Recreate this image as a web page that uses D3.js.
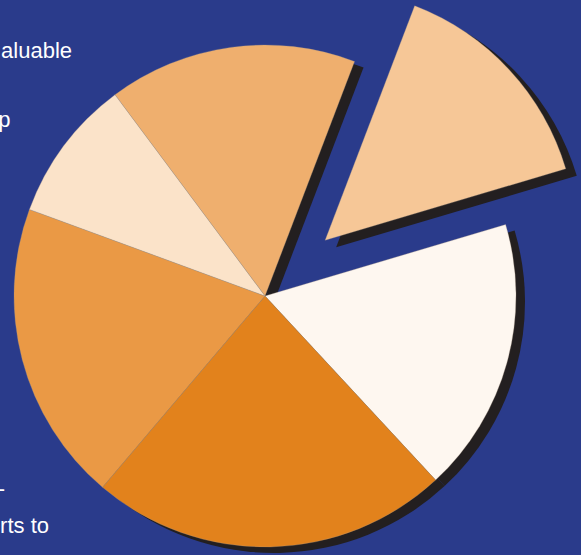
<!DOCTYPE html>
<html>
<head>
<meta charset="utf-8">
<script src="https://cdn.jsdelivr.net/npm/d3@7"></script>
<style>
  body { margin: 0; background: #2a3b8b; overflow: hidden; }
  .note { fill: #ffffff; font-family: "Liberation Sans", Arial, sans-serif; font-size: 22px; }
</style>
</head>
<body>
<script>
(function(){

//pseudo-global variables
var categories = ["Slice A", "Slice B", "Slice C", "Slice D", "Slice E", "Slice F"];
var shares = [16.0, 14.6, 17.7, 23.1, 19.4, 9.2];
var colors = ["#efaf6e", "#f6c797", "#fef7f0", "#e2821c", "#ea9945", "#fbe3c9"];
var exploded = "Slice B";

//text lines cut off at the left side (only the visible part)
var noteLines = ["aluable", "p", "-", "rts to"];
var noteEnds = [72, 10.5, 5, 49];
var noteBaselines = [58, 127, 496, 533];

window.onload = setChart();

function setChart(){

    //frame dimensions
    var width = 581,
        height = 555;

    var svg = d3.select("body")
      .append("svg")
      .attr("width", width)
      .attr("height", height);

    //text notes
    svg.selectAll(".note")
      .data(noteLines)
      .enter()
      .append("text")
      .attr("class", "note")
      .attr("text-anchor", "end")
      .attr("x", function(d, i){ return noteEnds[i]; })
      .attr("y", function(d, i){ return noteBaselines[i]; })
      .text(function(d){ return d; });

    var radius = 251,
        pull = 82;

    var pie = d3.pie()
      .sort(null)
      .startAngle(-36.7 * Math.PI / 180)
      .endAngle((360 - 36.7) * Math.PI / 180)
      .value(function(d){ return d; });

    var arc = d3.arc()
      .innerRadius(0)
      .outerRadius(radius);

    var color = d3.scaleOrdinal()
      .domain(categories)
      .range(colors);

    var arcs = pie(shares);
    arcs.forEach(function(d, i){ d.name = categories[i]; });

    //offset for the pulled out slice
    function shift(d){
      if (d.name != exploded) return [0, 0];
      var mid = (d.startAngle + d.endAngle) / 2;
      return [pull * Math.sin(mid), -pull * Math.cos(mid)];
    };

    var g = svg.append("g")
      .attr("transform", "translate(265,296)");

    //drop shadows first
    g.selectAll(".shadow")
      .data(arcs)
      .enter()
      .append("path")
      .attr("class", "shadow")
      .attr("d", arc)
      .attr("fill", "#231f20")
      .attr("transform", function(d){
        var s = shift(d);
        var off = d.name == exploded ? [11, 7] : [9, 6];
        return "translate(" + (s[0] + off[0]) + "," + (s[1] + off[1]) + ")";
      });

    //slices
    g.selectAll(".slice")
      .data(arcs)
      .enter()
      .append("path")
      .attr("class", "slice")
      .attr("d", arc)
      .attr("fill", function(d){ return color(d.name); })
      .attr("stroke", "#a89886")
      .attr("stroke-opacity", 0.6)
      .attr("stroke-width", 0.5)
      .attr("transform", function(d){
        var s = shift(d);
        return "translate(" + s[0] + "," + s[1] + ")";
      });
};

})();
</script>
</body>
</html>
